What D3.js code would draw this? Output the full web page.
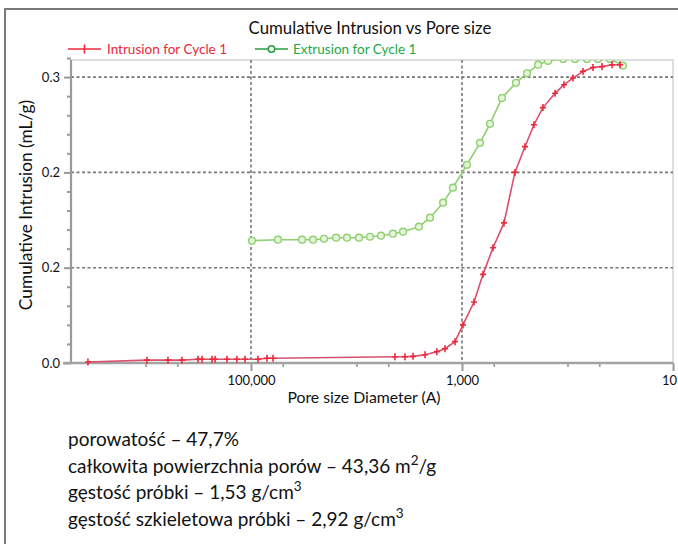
<!DOCTYPE html>
<html><head><meta charset="utf-8">
<script src="https://cdn.jsdelivr.net/npm/d3@7"></script>
<style>body{margin:0;background:#fff}svg{display:block}text{font-family:Lato,"Open Sans",sans-serif;fill:#111}</style>
</head><body>
<svg id="c" width="678" height="544"></svg>
<script>
// ---- data (pore size diameter in A, cumulative intrusion in mL/g) ----
const intrusionPore = [3510000, 968000, 612000, 451000, 318000, 291000, 234000, 219000, 169000, 136000, 114000, 85900, 70500, 61800,
  4320, 3470, 2910, 2240, 1730, 1450, 1165, 979, 769, 632, 508, 400, 315, 253, 208, 171, 131, 108, 88.7, 71.3, 57.3, 47.1, 37.8, 31.8];
const intrusionVol = [0.001, 0.003, 0.003, 0.003, 0.004, 0.004, 0.004, 0.004, 0.004, 0.004, 0.004, 0.004, 0.005, 0.005,
  0.0066, 0.0066, 0.007, 0.0087, 0.0119, 0.015, 0.0224, 0.040, 0.064, 0.093, 0.121, 0.147, 0.200, 0.227, 0.250, 0.268, 0.283, 0.292, 0.299, 0.306, 0.310, 0.311, 0.313, 0.313];
const extrusionPore = [97800, 55500, 32800, 25800, 20300, 15600, 12300, 9470, 7450, 5860, 4510, 3620, 2560, 2010, 1510, 1220,
  897, 675, 543, 418, 308, 242, 190, 153, 110, 84.9, 65.3, 51.4, 39.5, 29.8];
const extrusionVol = [0.1283, 0.1294, 0.1294, 0.1294, 0.1304, 0.1315, 0.1315, 0.1315, 0.1325, 0.1336, 0.1357, 0.1378, 0.143, 0.1525, 0.1682, 0.184,
  0.208, 0.231, 0.251, 0.278, 0.294, 0.304, 0.313, 0.317, 0.319, 0.319, 0.319, 0.319, 0.319, 0.312];
const xTickValues = [100000, 1000, 10];
const xTickLabels = ["100,000", "1,000", "10"];
const xMinorValues = [1000000, 500000, 50000, 10000, 5000, 500, 100, 50];
const yTickValues = [0, 0.1, 0.2, 0.3];
const yTickLabels = ["0.0", "0.2", "0.2", "0.3"];
const yMinorValues = [0.02,0.04,0.06,0.08,0.12,0.14,0.16,0.18,0.22,0.24,0.26,0.28,0.32];
const seriesNames = ["Intrusion for Cycle 1", "Extrusion for Cycle 1"];
const titleText = "Cumulative Intrusion vs Pore size";
const xLabel = "Pore size Diameter (A)";
const yLabel = "Cumulative Intrusion (mL/g)";

const svg = d3.select("#c");
const L = 71, R = 673, T = 60, B = 363;
const x = d3.scaleLog().domain([5080000, 10]).range([L, R]);
const y = d3.scaleLinear().domain([0, 0.1]).range([B, B - 95.3]);

// frame
svg.append("path").attr("d", `M5,544 V9 H678`).attr("fill","none").attr("stroke","#7a7a7a").attr("stroke-width",2);

// plot border (light)
svg.append("path").attr("d", `M${L},${T} H${R} V${B}`).attr("fill","none").attr("stroke","#dedede").attr("stroke-width",2);

// grid
const grid = svg.append("g").attr("stroke","#777").attr("stroke-width",1.6).attr("stroke-dasharray","3,2.5");
yTickValues.filter(v=>v>0).forEach(v=>grid.append("line").attr("x1",L).attr("x2",R).attr("y1",y(v)).attr("y2",y(v)));
xTickValues.filter(v=>v>10).forEach(v=>grid.append("line").attr("x1",x(v)).attr("x2",x(v)).attr("y1",T).attr("y2",B));

// y axis
const yAxis = svg.append("g").attr("transform",`translate(${L},0)`)
  .call(d3.axisLeft(y).tickValues(yTickValues).tickFormat((d,i)=>yTickLabels[i]).tickSize(7).tickPadding(4));
yAxis.select(".domain").remove();
yAxis.selectAll(".tick line").attr("stroke","#999").attr("stroke-width",2);
yAxis.selectAll(".tick text").attr("font-size",13).attr("font-family","Lato").attr("fill","#111");
const yMin = svg.append("g").attr("transform",`translate(${L},0)`)
  .call(d3.axisLeft(y).tickValues(yMinorValues).tickFormat("").tickSize(4));
yMin.select(".domain").remove();
yMin.selectAll(".tick line").attr("stroke","#999").attr("stroke-width",2);
svg.append("line").attr("x1",L).attr("x2",L).attr("y1",T).attr("y2",B).attr("stroke","#9a9a9a").attr("stroke-width",2.2);

// x axis
const xAxis = svg.append("g").attr("transform",`translate(0,${B})`)
  .call(d3.axisBottom(x).tickValues(xTickValues).tickFormat((d,i)=>xTickLabels[i]).tickSize(8).tickPadding(5));
xAxis.select(".domain").remove();
xAxis.selectAll(".tick line").attr("stroke","#999").attr("stroke-width",2);
xAxis.selectAll(".tick text").attr("font-size",13).attr("font-family","Lato").attr("fill","#111");
xAxis.selectAll(".tick text").filter(d=>d===10).attr("dx",-4);
const xMin = svg.append("g").attr("transform",`translate(0,${B})`)
  .call(d3.axisBottom(x).tickValues(xMinorValues).tickFormat("").tickSize(4));
xMin.select(".domain").remove();
xMin.selectAll(".tick line").attr("stroke","#999").attr("stroke-width",1.6);
svg.append("line").attr("x1",63).attr("x2",R).attr("y1",B).attr("y2",B).attr("stroke","#a3a3a3").attr("stroke-width",2.6);

// clip
svg.append("clipPath").attr("id","clip").append("rect").attr("x",L).attr("y",T).attr("width",R-L).attr("height",B-T+6);
const plot = svg.append("g").attr("clip-path","url(#clip)");

const line = d3.line().x(d=>x(d[0])).y(d=>y(d[1]));
const intr = intrusionPore.map((p,i)=>[p,intrusionVol[i]]);
const extr = extrusionPore.map((p,i)=>[p,extrusionVol[i]]);

// extrusion (green)
plot.append("path").datum(extr).attr("d",line).attr("fill","none").attr("stroke","#8fd070").attr("stroke-width",1.6);
plot.selectAll(".ext").data(extr).join("circle").attr("cx",d=>x(d[0])).attr("cy",d=>y(d[1])).attr("r",3.4)
  .attr("fill","#e6f5dc").attr("stroke","#8fd070").attr("stroke-width",1.4);

// intrusion (red)
plot.append("path").datum(intr).attr("d",line).attr("fill","none").attr("stroke","#d9506e").attr("stroke-width",1.6);
plot.selectAll(".int").data(intr).join("path")
  .attr("d",d=>{const cx=x(d[0]), cy=y(d[1]); return `M${cx-3},${cy}H${cx+3}M${cx},${cy-3.5}V${cy+3.5}`;})
  .attr("stroke","#ec2a3a").attr("stroke-width",1.6).attr("fill","none");

// title
svg.append("text").attr("x",370).attr("y",34).attr("text-anchor","middle").attr("font-size",16.8).text(titleText);

// legend
svg.append("line").attr("x1",68).attr("x2",101).attr("y1",49).attr("y2",49).attr("stroke","#e8283c").attr("stroke-width",1.6);
svg.append("line").attr("x1",84.5).attr("x2",84.5).attr("y1",44.5).attr("y2",53.5).attr("stroke","#e8283c").attr("stroke-width",1.6);
svg.append("text").attr("x",107).attr("y",54).attr("font-size",13.5).style("fill","#e8283c").text(seriesNames[0]);
svg.append("line").attr("x1",255).attr("x2",288).attr("y1",49).attr("y2",49).attr("stroke","#2a9d3c").attr("stroke-width",1.6);
svg.append("circle").attr("cx",271.5).attr("cy",49).attr("r",3.2).attr("fill","#fff").attr("stroke","#2a9d3c").attr("stroke-width",1.5);
svg.append("text").attr("x",293).attr("y",54).attr("font-size",13.5).style("fill","#22a845").text(seriesNames[1]);

// axis labels
svg.append("text").attr("x",364).attr("y",403).attr("text-anchor","middle").attr("font-size",15.8).text(xLabel);
svg.append("text").attr("transform","translate(32,205) rotate(-90)").attr("text-anchor","middle").attr("font-size",17.3).text(yLabel);

// notes
const notes = [
  {t:"porowatość – 47,7%"},
  {t:"całkowita powierzchnia porów – 43,36 m", sup:"2", after:"/g"},
  {t:"gęstość próbki – 1,53 g/cm", sup:"3", after:""},
  {t:"gęstość szkieletowa próbki – 2,92 g/cm", sup:"3", after:""}
];
notes.forEach((n,i)=>{
  const t = svg.append("text").attr("x",68).attr("y",446 + i*26.5).attr("font-size",19);
  t.append("tspan").text(n.t);
  if (n.sup) {
    t.append("tspan").attr("dy",-8).attr("font-size",13.5).text(n.sup);
    if (n.after) t.append("tspan").attr("dy",8).text(n.after);
  }
});
</script>
</body></html>
